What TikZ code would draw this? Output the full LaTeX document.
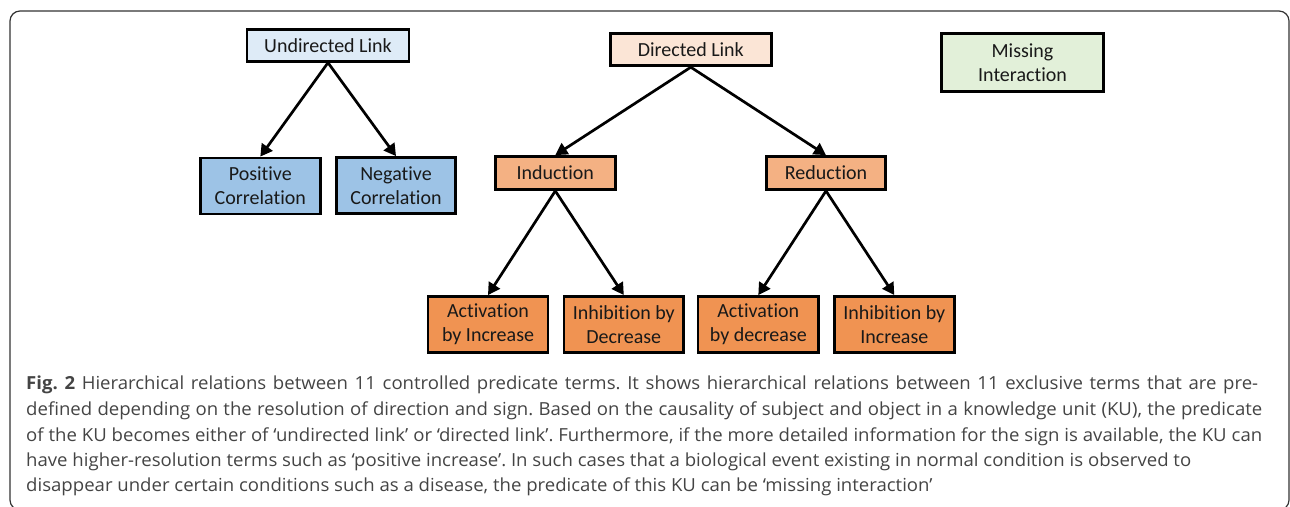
\documentclass[tikz,border=0pt]{standalone}
\usepackage{fontspec}
\setmainfont{Carlito}[Ligatures={NoCommon,NoContextual}]
\newfontfamily\capfont{Open Sans}
\usetikzlibrary{arrows.meta}
\definecolor{ulinkc}{HTML}{DEEBF7}
\definecolor{corrc}{HTML}{9DC3E6}
\definecolor{dlinkc}{HTML}{FBE5D6}
\definecolor{midc}{HTML}{F4B183}
\definecolor{leafc}{HTML}{F09352}
\definecolor{missc}{HTML}{E2F0D9}
\definecolor{captxt}{HTML}{444444}
\definecolor{framec}{HTML}{333333}
\newlength\capw
\newcommand\capsel{\capfont\fontsize{18pt}{25pt}\selectfont\frenchspacing}
\newcommand\linefour{have higher-resolution terms such as ‘positive increase’. In such cases that a biological event existing in normal condition is observed to}
\tikzset{
  box/.style={draw=black, line width=2.8pt, inner sep=0pt, align=center,
    font=\fontsize{20pt}{24pt}\selectfont, text=black!90},
  conn/.style={line width=2.7pt, -{Triangle[length=12pt,width=13pt]}},
  capline/.style={anchor=base west, inner sep=0pt, text=captxt, font=\capsel},
}
\begin{document}
\settowidth\capw{\capsel\linefour}%
\pgfmathsetmacro\xs{1165/\capw}%
\pgfmathsetmacro\wa{1232/\xs}%
\pgfmathsetmacro\wb{1236/\xs}%
\begin{tikzpicture}[x=1pt,y=-1pt]
\useasboundingbox (0,0) rectangle (1290,506);
\draw[framec, line width=1.2pt, rounded corners=10pt] (10,11) rectangle (1289,510);
% top nodes
\node[box, fill=ulinkc, minimum width=162pt, minimum height=32pt] (ul) at (328,45.3) {Undirected Link};
\node[box, fill=dlinkc, minimum width=161pt, minimum height=32pt] (dl) at (690.8,49.8) {Directed Link};
\node[box, fill=missc, minimum width=162pt, minimum height=57.5pt] (mi) at (1022.5,62.5) {Missing\\Interaction};
% correlation
\node[box, fill=corrc, minimum width=120pt, minimum height=56pt] (pos) at (260.3,186) {Positive\\Correlation};
\node[box, fill=corrc, minimum width=119pt, minimum height=56pt] (neg) at (396,185.5) {Negative\\Correlation};
% induction / reduction
\node[box, fill=midc, minimum width=120pt, minimum height=33pt] (ind) at (555.3,173) {Induction};
\node[box, fill=midc, minimum width=119pt, minimum height=33pt] (red) at (826,173) {Reduction};
% leaves
\node[box, fill=leafc, minimum width=120pt, minimum height=56pt] (a1) at (488,324.5) {Activation\\by Increase};
\node[box, fill=leafc, minimum width=119.5pt, minimum height=56pt] (i1) at (623.8,324.5) {Inhibition by\\Decrease};
\node[box, fill=leafc, minimum width=120.5pt, minimum height=56pt] (a2) at (758.3,324.5) {Activation\\by decrease};
\node[box, fill=leafc, minimum width=120pt, minimum height=56pt] (i2) at (894.3,324.5) {Inhibition by\\Increase};
% connectors
\draw[conn] (ul.south) -- (pos.north);
\draw[conn] (ul.south) -- (neg.north);
\draw[conn] (dl.south) -- (ind.north);
\draw[conn] (dl.south) -- (red.north);
\draw[conn] (ind.south) -- (a1.north);
\draw[conn] (ind.south) -- (i1.north);
\draw[conn] (red.south) -- (a2.north);
\draw[conn] (red.south) -- (i2.north);
% caption
\node[capline] (c1) at (26,389) {\scalebox{\xs}[1]{\makebox[\wa pt][s]{\textbf{Fig. 2} Hierarchical relations between 11 controlled predicate terms. It shows hierarchical relations between 11 exclusive terms that are pre-}}};
\node[capline] (c2) at (26,415) {\scalebox{\xs}[1]{\makebox[\wb pt][s]{defined depending on the resolution of direction and sign. Based on the causality of subject and object in a knowledge unit (KU), the predicate}}};
\node[capline] (c3) at (26,441) {\scalebox{\xs}[1]{\makebox[\wb pt][s]{of the KU becomes either of ‘undirected link’ or ‘directed link’. Furthermore, if the more detailed information for the sign is available, the KU can}}};
\node[capline] (c4) at (26,466) {\scalebox{\xs}[1]{\linefour}};
\node[capline] (c5) at (26,491) {\scalebox{\xs}[1]{disappear under certain conditions such as a disease, the predicate of this KU can be ‘missing interaction’}};
\end{tikzpicture}
\end{document}
